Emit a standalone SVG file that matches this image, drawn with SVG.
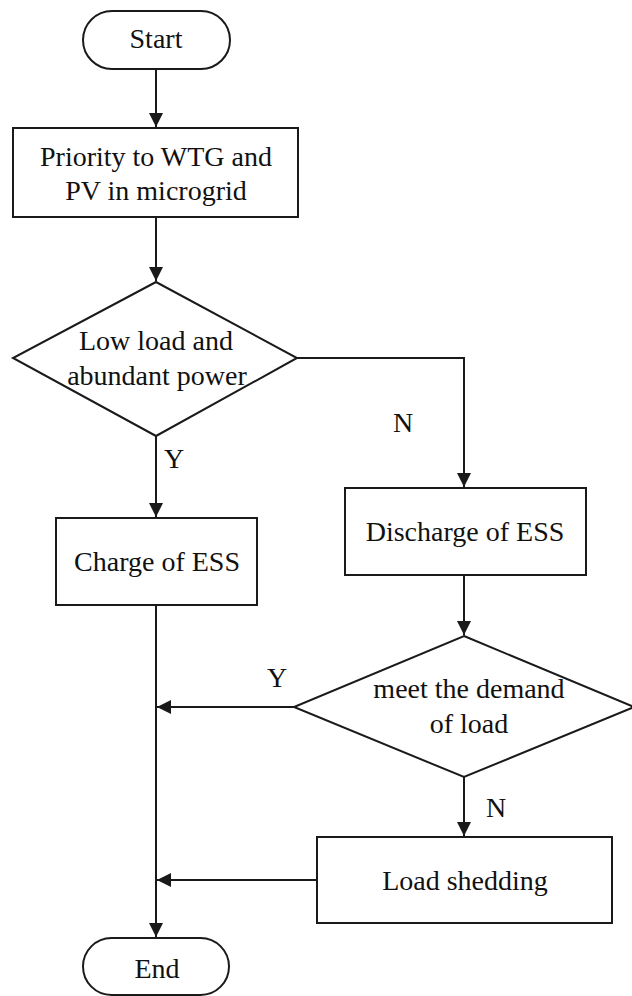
<svg xmlns="http://www.w3.org/2000/svg" width="632" height="996" viewBox="0 0 632 996">
<defs>
<marker id="a" markerUnits="userSpaceOnUse" markerWidth="14" markerHeight="16" viewBox="0 0 14 16" refX="14" refY="8" orient="auto">
<path d="M0,1 L14,8 L0,15 Z" fill="#1a1a1a"/>
</marker>
</defs>
<rect width="632" height="996" fill="#fff"/>
<g id="connectors" fill="none" stroke="#1a1a1a" stroke-width="2">
<path d="M156,69 V127" marker-end="url(#a)"/>
<path d="M156,217 V281" marker-end="url(#a)"/>
<path d="M156,436 V517" marker-end="url(#a)"/>
<path d="M297,358 H464 V487" marker-end="url(#a)"/>
<path d="M464,575 V635" marker-end="url(#a)"/>
<path d="M294,707 H157" marker-end="url(#a)"/>
<path d="M464,777 V836" marker-end="url(#a)"/>
<path d="M317,880 H157" marker-end="url(#a)"/>
<path d="M156,605 V937" marker-end="url(#a)"/>
</g>
<g id="labels" font-family="Liberation Serif" font-size="28" fill="#111">
<text x="164" y="468">Y</text>
<text x="393" y="432">N</text>
<text x="267" y="687">Y</text>
<text x="486" y="817">N</text>
</g>
<g fill="#fff" stroke="#1a1a1a" stroke-width="2">
<rect id="start-shape" x="83" y="11" width="147" height="58" rx="29"/>
<rect id="priority-shape" x="13" y="128" width="285" height="89"/>
<polygon id="decision1-shape" points="156,282 297,358 156,436 13,358"/>
<rect id="charge-shape" x="56" y="518" width="201" height="87"/>
<rect id="discharge-shape" x="345" y="488" width="241" height="87"/>
<polygon id="decision2-shape" points="464,636 634,707 464,777 294,707"/>
<rect id="shedding-shape" x="317" y="837" width="295" height="86"/>
<rect id="end-shape" x="83" y="938" width="146" height="57" rx="28.5"/>
</g>
<g font-family="Liberation Serif" font-size="28" fill="#111" text-anchor="middle">
<g id="start"><text x="156" y="48">Start</text></g>
<g id="priority">
<text x="156" y="166">Priority to WTG and</text>
<text x="156" y="200">PV in microgrid</text>
</g>
<g id="decision1">
<text x="156" y="350">Low load and</text>
<text x="157" y="385">abundant power</text>
</g>
<g id="charge"><text x="157" y="571">Charge of ESS</text></g>
<g id="discharge"><text x="465" y="541">Discharge of ESS</text></g>
<g id="decision2">
<text x="469" y="698">meet the demand</text>
<text x="469" y="733">of load</text>
</g>
<g id="shedding"><text x="465" y="890">Load shedding</text></g>
<g id="end"><text x="157" y="978">End</text></g>
</g>
</svg>
